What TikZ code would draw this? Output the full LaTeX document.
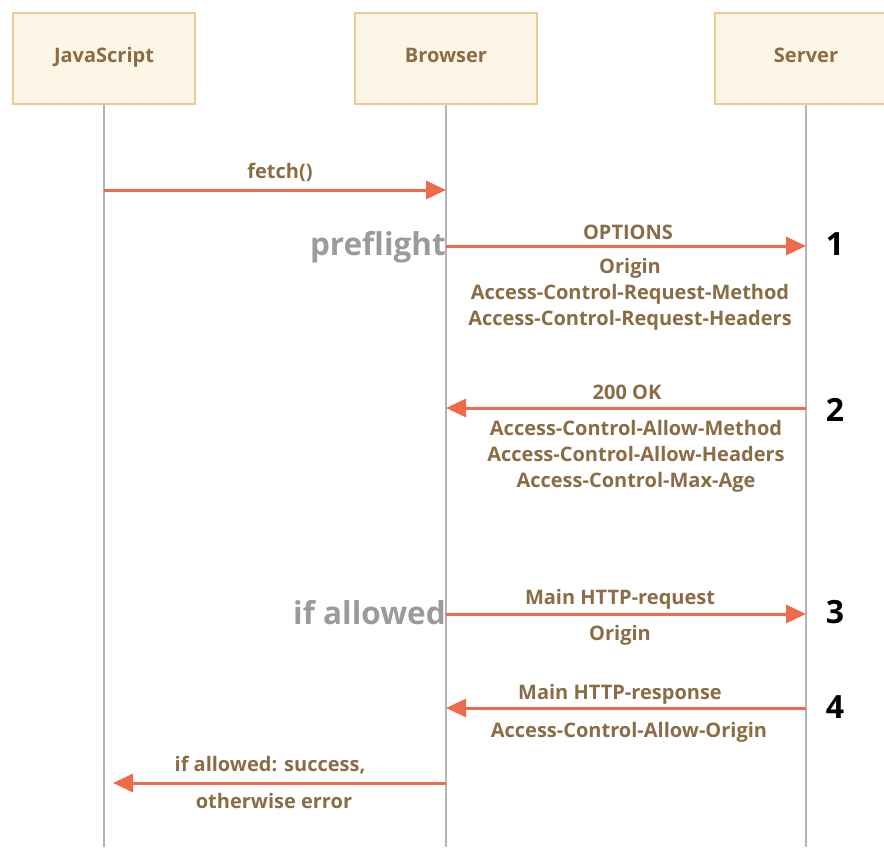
\documentclass[tikz,border=0pt]{standalone}
\usepackage{fontspec}
\setmainfont{Open Sans}
\usepackage{tikz}
\usetikzlibrary{arrows.meta}
\definecolor{boxfill}{HTML}{FDF6E7}
\definecolor{boxline}{HTML}{EBCB8F}
\definecolor{label}{HTML}{8A6C45}
\definecolor{arrowc}{HTML}{EE6A4A}
\definecolor{muted}{HTML}{9B9B9B}
\definecolor{life}{HTML}{B4B4B4}
\tikzset{
  actor/.style={draw=boxline, fill=boxfill, line width=2pt, minimum width=182pt, minimum height=91pt, text=label, text height=15pt, text depth=8pt, font=\bfseries\fontsize{20}{24}\selectfont},
  lifeline/.style={draw=life, line width=1.2pt},
  msg/.style={draw=arrowc, line width=3pt, -{Triangle[length=20pt,width=18pt]}},
  lbl/.style={text=label, font=\bfseries\fontsize{20}{26}\selectfont, align=center, inner sep=0pt, yshift=-2pt},
  phase/.style={text=muted, font=\bfseries\fontsize{31.5}{36}\selectfont, inner sep=0pt, anchor=east, yshift=-3pt},
  stepnum/.style={text=black, font=\bfseries\fontsize{32}{36}\selectfont, inner sep=0pt}
}

\begin{document}
\begin{tikzpicture}[x=1pt,y=-1pt]
  \useasboundingbox (0,0) rectangle (884,847);

  \node[actor] (js) at (104,58.5) {JavaScript};
  \node[actor] (br) at (446,58.5) {Browser};
  \node[actor] (sv) at (806,58.5) {Server};

  \draw[lifeline] (js.south) -- (js.south |- 0,847);
  \draw[lifeline] (br.south) -- (br.south |- 0,847);
  \draw[lifeline] (sv.south) -- (sv.south |- 0,847);

  % fetch()
  \coordinate (js1) at (104,190);
  \coordinate (br1) at (446,190);
  \draw[msg] (js1) -- (br1);
  \node[lbl] (fetchL) at (280,170) {fetch()};

  % 1: preflight
  \coordinate (br2) at (446,246);
  \coordinate (sv2) at (806,246);
  \draw[msg] (br2) -- (sv2);
  \node[lbl] (optL) at (628,230) {OPTIONS};
  \node[lbl] (optH) at (630,292) {Origin\\Access-Control-Request-Method\\Access-Control-Request-Headers};
  \node[phase] (pre) at (446,244) {preflight};
  \node[stepnum] (n1) at (835,244) {1};

  % 2: 200 OK
  \coordinate (sv3) at (806,408);
  \coordinate (br3) at (446,408);
  \draw[msg] (sv3) -- (br3);
  \node[lbl] (okL) at (627,390) {200 OK};
  \node[lbl] (okH) at (636,454) {Access-Control-Allow-Method\\Access-Control-Allow-Headers\\Access-Control-Max-Age};
  \node[stepnum] (n2) at (835,410) {2};

  % 3: main request
  \coordinate (br4) at (446,614);
  \coordinate (sv4) at (806,614);
  \draw[msg] (br4) -- (sv4);
  \node[lbl] (reqL) at (620,597) {Main HTTP-request};
  \node[lbl] (reqH) at (620,633) {Origin};
  \node[phase] (ifok) at (446,610) {if allowed};
  \node[stepnum] (n3) at (835,612) {3};

  % 4: main response
  \coordinate (sv5) at (806,708);
  \coordinate (br5) at (446,708);
  \draw[msg] (sv5) -- (br5);
  \node[lbl] (resL) at (620,692) {Main HTTP-response};
  \node[lbl] (resH) at (629,730) {Access-Control-Allow-Origin};
  \node[stepnum] (n4) at (835,707) {4};

  % result back to script
  \coordinate (br6) at (446,783);
  \coordinate (js6) at (113,783);
  \draw[msg] (br6) -- (js6);
  \node[lbl] (outL) at (270,763) {if allowed: success,};
  \node[lbl] (outH) at (274,799) {otherwise error};
\end{tikzpicture}
\end{document}
